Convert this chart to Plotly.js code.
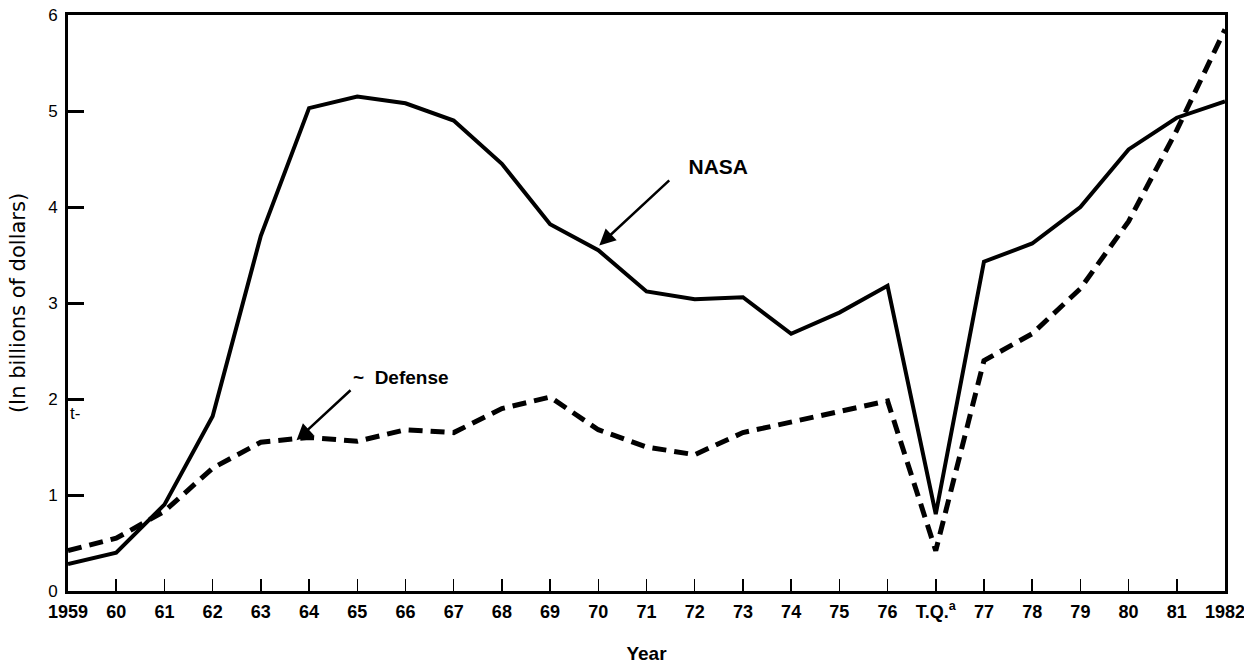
<!DOCTYPE html>
<html>
<head>
<meta charset="utf-8">
<script src="https://cdn.plot.ly/plotly-3.0.1.min.js"></script>
<style>html,body{margin:0;padding:0;background:#fff;}#chart{width:1244px;height:664px;}</style>
</head>
<body>
<div id="chart"></div>
<script>
const years = ['1959','60','61','62','63','64','65','66','67','68','69','70','71','72','73','74','75','76','T.Q.','77','78','79','80','81','1982'];
const tickLabels = ['1959','60','61','62','63','64','65','66','67','68','69','70','71','72','73','74','75','76','T.Q.<sup>a</sup>','77','78','79','80','81','1982'];
const nasa = [0.28,0.40,0.90,1.82,3.70,5.03,5.15,5.08,4.90,4.45,3.82,3.55,3.12,3.04,3.06,2.68,2.90,3.18,0.80,3.43,3.62,4.00,4.60,4.93,5.10];
const defense = [0.42,0.55,0.83,1.28,1.55,1.60,1.56,1.68,1.65,1.90,2.02,1.68,1.50,1.42,1.65,1.76,1.88,1.98,0.42,2.40,2.68,3.15,3.85,4.80,5.85];
const yTicks = [0,1,2,3,4,5,6];

const traces = [
  {x: years, y: nasa, type:'scatter', mode:'lines', name:'NASA',
   line:{color:'#000', width:4}},
  {x: years, y: defense, type:'scatter', mode:'lines', name:'Defense',
   line:{color:'#000', width:5, dash:'14px,8px'}}
];

const layout = {
  width:1244, height:664,
  margin:{l:68, r:19, t:15, b:73},
  paper_bgcolor:'#fff', plot_bgcolor:'#fff',
  showlegend:false,
  font:{family:'Liberation Sans, Arial, sans-serif', color:'#000'},
  xaxis:{
    type:'category', range:[0,24],
    tickmode:'array', tickvals: years, ticktext: tickLabels,
    ticks:'inside', ticklen:12, tickwidth:1.5, tickcolor:'#000',
    showline:true, linewidth:3, linecolor:'#000', mirror:true,
    showgrid:false, zeroline:false,
    tickfont:{size:18, weight:'bold', color:'#000'},
    ticklabelstandoff:2,
    title:{text:'Year', font:{size:19, weight:'bold', color:'#000'}, standoff:33},
    automargin:false
  },
  yaxis:{
    range:[0,6], tickmode:'array', tickvals:yTicks,
    ticks:'inside', ticklen:16, tickwidth:3, tickcolor:'#000',
    showline:true, linewidth:3, linecolor:'#000', mirror:true,
    showgrid:false, zeroline:false,
    tickfont:{size:17, color:'#000'},
    ticklabelstandoff:4,
    title:{text:'(In billions of dollars)', font:{family:'DejaVu Sans, sans-serif', size:21, color:'#000'}, standoff:17},
    automargin:false
  },
  annotations:[
    {x:11.02, y:3.60, xref:'x', yref:'y', text:'\u00a0\u00a0\u00a0NASA', showarrow:true,
     xanchor:'left', yanchor:'bottom',
     font:{size:21, weight:'bold', color:'#000'},
     arrowhead:2, arrowsize:1.3, arrowwidth:2.5, arrowcolor:'#000', ax:70, ay:-65},
    {x:4.74, y:1.57, xref:'x', yref:'y', text:'~  Defense', showarrow:true,
     xanchor:'left', yanchor:'bottom',
     font:{size:19, weight:'bold', color:'#000'},
     arrowhead:2, arrowsize:1.3, arrowwidth:2.5, arrowcolor:'#000', ax:54, ay:-50},
    {x:0.0, y:1.85, xref:'x', yref:'y', text:'t-', showarrow:false, xanchor:'left',
     font:{size:17, color:'#000'}}
  ]
};

Plotly.newPlot('chart', traces, layout, {displayModeBar:false, staticPlot:true});
</script>
</body>
</html>
